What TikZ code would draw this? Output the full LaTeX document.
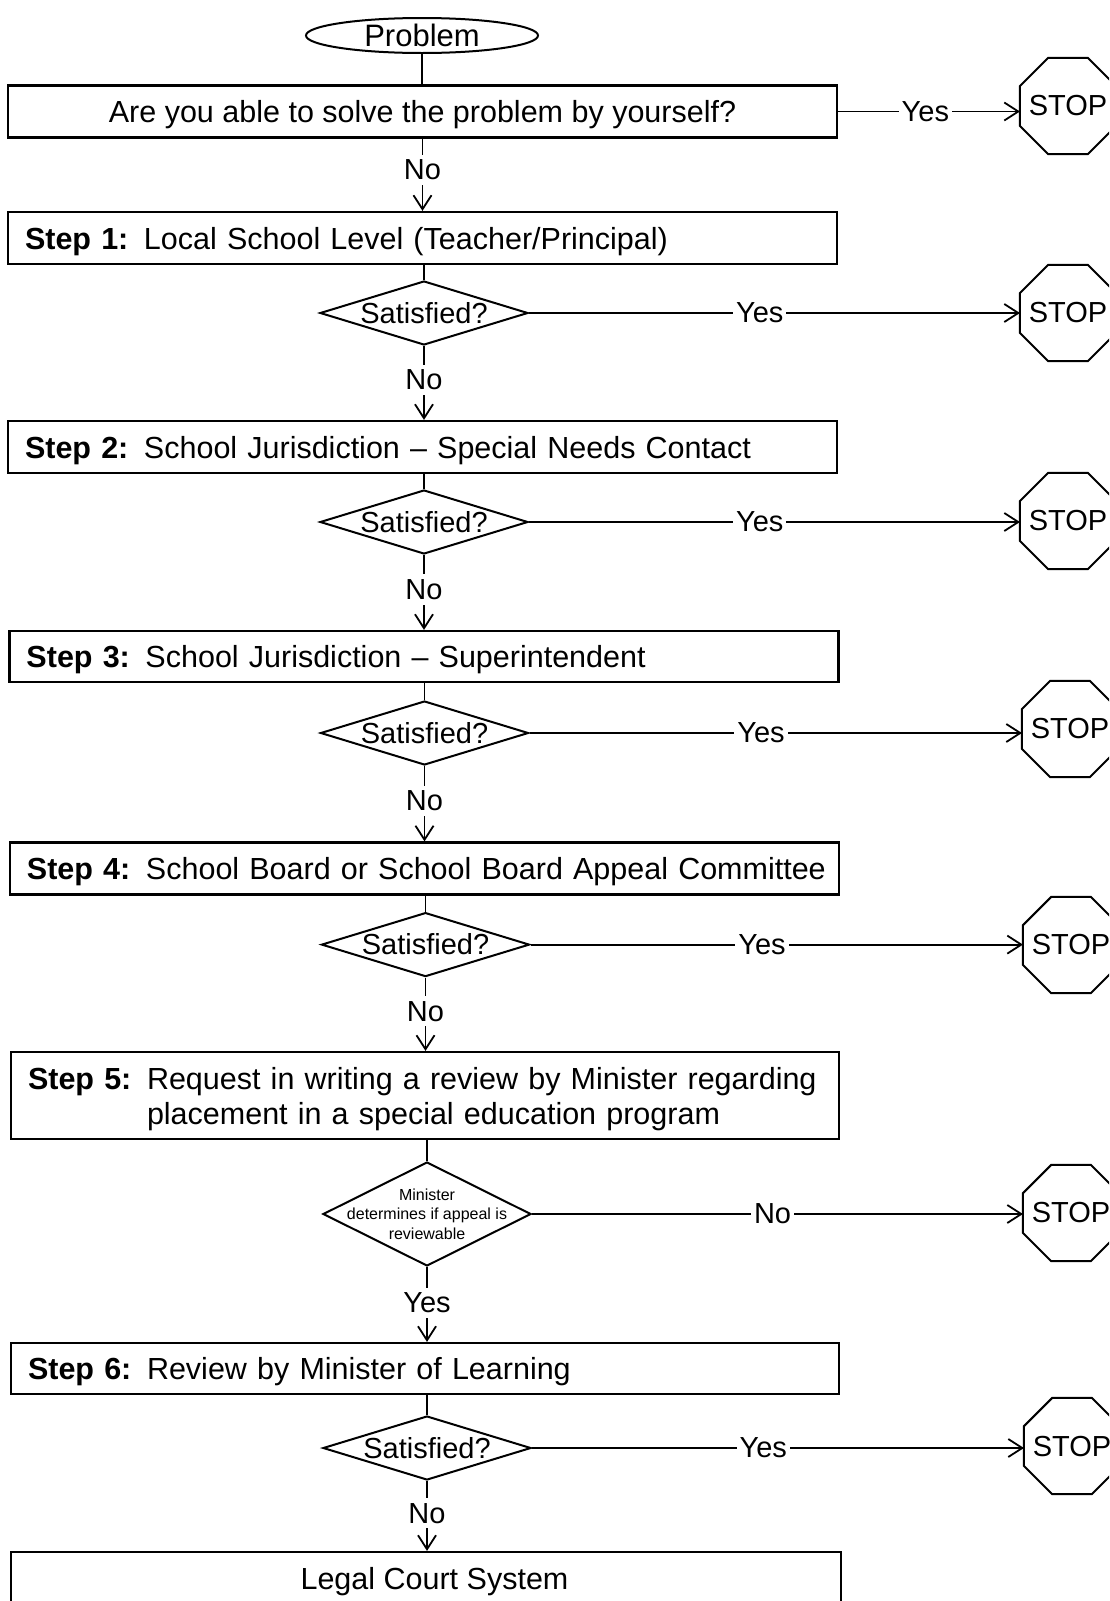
\documentclass[tikz,border=0pt]{standalone}
\usepackage{fontspec}
\setmainfont{Liberation Sans}
\usetikzlibrary{shapes.geometric,arrows.meta}
\begin{document}
\begin{tikzpicture}[x=1pt,y=-1pt,
  every node/.style={font=\fontsize{30.5}{35}\selectfont},
  box/.style={draw, line width=2.2pt, rectangle, inner ysep=0pt, inner xsep=0pt, minimum width=829pt, minimum height=52pt, text height=22pt, text depth=0pt},
  stepbox/.style={draw, line width=2.2pt, rectangle, inner ysep=0pt, inner xsep=17pt, text width=795pt, align=left, minimum height=52pt, text height=22pt, text depth=0pt},
  decision/.style={diamond, draw, line width=2pt, shape aspect=3.25, inner sep=0pt, minimum width=208pt, minimum height=64pt, font=\fontsize{29}{34}\selectfont},
  stopsign/.style={regular polygon, regular polygon sides=8, draw, line width=2pt, minimum size=104pt, inner sep=0pt, outer sep=0pt},
  stoptext/.style={inner sep=0pt, font=\fontsize{29}{34}\selectfont},
  lbl/.style={fill=white, inner xsep=3pt, inner ysep=5pt, font=\fontsize{29}{34}\selectfont},
  conn/.style={line width=1.8pt},
  arr/.style={line width=1.8pt, -{Straight Barb[length=14pt,width=18pt]}}
]
\useasboundingbox (0,0) rectangle (1109,1601);
\clip (0,0) rectangle (1109,1601);
\fill[white] (0,0) rectangle (1109,1601);

% start
\node[ellipse, draw, line width=2pt, minimum width=232pt, minimum height=35pt, inner sep=0pt, font=\fontsize{31}{35}\selectfont] (prob) at (422,35.5) {Problem};
\node[box] (b0) at (422.5,111.5) {Are you able to solve the problem by yourself?};

% steps
\node[stepbox] (b1) at (422.5,238) {\mbox{\makebox[119pt][l]{\bfseries Step 1:}Local School Level (Teacher/Principal)}};
\node[stepbox] (b2) at (422.5,447) {\mbox{\makebox[119pt][l]{\bfseries Step 2:}School Jurisdiction -- Special Needs Contact}};
\node[stepbox, minimum height=51pt] (b3) at (424,656.5) {\mbox{\makebox[119pt][l]{\bfseries Step 3:}School Jurisdiction -- Superintendent}};
\node[stepbox] (b4) at (424.5,868.5) {\mbox{\makebox[119pt][l]{\bfseries Step 4:}School Board or School Board Appeal Committee}};
\node[stepbox, text width=794pt, minimum height=87pt, text height=22pt, text depth=35pt] (b5) at (425,1095.5) {\mbox{\makebox[119pt][l]{\bfseries Step 5:}Request in writing a review by Minister regarding}\\\mbox{\hspace*{119pt}placement in a special education program}};
\node[stepbox, text width=794pt, minimum height=51pt] (b6) at (425,1368.5) {\mbox{\makebox[119pt][l]{\bfseries Step 6:}Review by Minister of Learning}};
\node[box, minimum width=830pt] (b7) at (426,1578) {\hspace*{17pt}Legal Court System};

% decisions
\node[decision] (d1) at (424,313) {Satisfied?};
\node[decision] (d2) at (424,522) {Satisfied?};
\node[decision] (d3) at (424.5,733) {Satisfied?};
\node[decision] (d4) at (425.5,944.6) {Satisfied?};
\node[decision, minimum height=104pt, shape aspect=2] (d5) at (427,1214) {};
\node[font=\fontsize{16}{19.4}\selectfont, align=center, inner sep=0pt] (d5t) at (d5.center) {Minister\\determines if appeal is\\reviewable};
\node[decision] (d6) at (427,1448) {Satisfied?};

% stops
\node[stopsign] (s0) at (1068,106) {};
\node[stopsign] (s1) at (1068,313) {};
\node[stopsign] (s2) at (1068,521) {};
\node[stopsign] (s3) at (1070,729) {};
\node[stopsign] (s4) at (1071,945) {};
\node[stopsign] (s5) at (1071,1213) {};
\node[stopsign] (s6) at (1072,1446) {};
\foreach \s in {s0,s1,s2,s3,s4,s5,s6} \node[stoptext] (\s t) at (\s.center) {STOP};

% vertical connectors
\draw[conn] (prob.south) -- (prob.south |- b0.north);
\draw[arr] (b0.south) -- node[lbl, pos=0.43]{No} (b0.south |- b1.north);
\draw[conn] (d1.north |- b1.south) -- (d1.north);
\draw[arr] (d1.south) -- node[lbl, pos=0.46]{No} (d1.south |- b2.north);
\draw[conn] (d2.north |- b2.south) -- (d2.north);
\draw[arr] (d2.south) -- node[lbl, pos=0.46]{No} (d2.south |- b3.north);
\draw[conn] (d3.north |- b3.south) -- (d3.north);
\draw[arr] (d3.south) -- node[lbl, pos=0.46]{No} (d3.south |- b4.north);
\draw[conn] (d4.north |- b4.south) -- (d4.north);
\draw[arr] (d4.south) -- node[lbl, pos=0.46]{No} (d4.south |- b5.north);
\draw[conn] (d5.north |- b5.south) -- (d5.north);
\draw[arr] (d5.south) -- node[lbl, pos=0.48]{Yes} (d5.south |- b6.north);
\draw[conn] (d6.north |- b6.south) -- (d6.north);
\draw[arr] (d6.south) -- node[lbl, pos=0.46]{No} (d6.south |- b7.north);

% horizontal connectors
\draw[arr] (b0.east) -- node[lbl, pos=0.48]{Yes} (b0.east -| s0.west);
\draw[arr] (d1.east) -- node[lbl, pos=0.47]{Yes} (d1.east -| s1.west);
\draw[arr] (d2.east) -- node[lbl, pos=0.47]{Yes} (d2.east -| s2.west);
\draw[arr] (d3.east) -- node[lbl, pos=0.47]{Yes} (d3.east -| s3.west);
\draw[arr] (d4.east) -- node[lbl, pos=0.47]{Yes} (d4.east -| s4.west);
\draw[arr] (d5.east) -- node[lbl, pos=0.49]{No} (d5.east -| s5.west);
\draw[arr] (d6.east) -- node[lbl, pos=0.47]{Yes} (d6.east -| s6.west);
\end{tikzpicture}
\end{document}
